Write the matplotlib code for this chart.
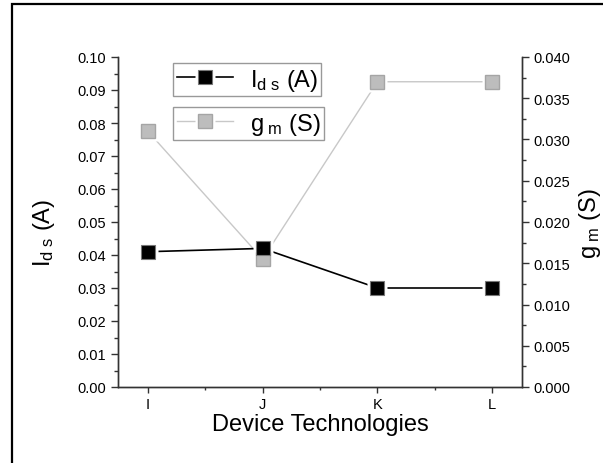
import numpy as np
import matplotlib
matplotlib.use("Agg")
import matplotlib.pyplot as plt
from matplotlib.lines import Line2D
from matplotlib.patches import Rectangle
from matplotlib.ticker import MultipleLocator

plt.rcParams['font.family'] = ['Liberation Sans', 'DejaVu Sans']
plt.rcParams['mathtext.fontset'] = 'custom'
plt.rcParams['mathtext.rm'] = 'Liberation Sans'
plt.rcParams['mathtext.it'] = 'Liberation Sans:italic'

# data
devices = ['I', 'J', 'K', 'L']
ids_values = [0.041, 0.042, 0.030, 0.030]
gm_values = [0.031, 0.0155, 0.037, 0.037]

ids_label = r'I$_{\mathrm{d\ s}}$ (A)'
gm_label = r'g$_{\mathrm{\ m}}$ (S)'

MS = 9.5      # marker size
HALO = 14.5   # white gap around markers (Origin style)

fig = plt.figure(figsize=(6.03, 4.64), dpi=100)
W, H = 603, 464

# outer frame of the exported figure
fig.patches.append(Rectangle((12 / W, -0.1), 1.2, 1 - 5 / H + 0.1,
                             transform=fig.transFigure, fill=False,
                             edgecolor='black', linewidth=1.6))

ax = fig.add_axes([118 / W, 1 - 388 / H, (522 - 118) / W, (388 - 58) / H])
ax2 = ax.twinx()

x = np.arange(len(devices))

gm_style = dict(markerfacecolor='#bdbdbd', markeredgecolor='#a5a5a5', markeredgewidth=1.0)
ids_style = dict(markerfacecolor='black', markeredgecolor='#777777', markeredgewidth=0.8)

# lines first, then white halos that cut the lines, then the markers
ax2.plot(x, gm_values, color='#c8c8c8', linewidth=1.0, zorder=1)
ax.plot(x, ids_values, color='black', linewidth=1.2, zorder=1)
ax2.plot(x, gm_values, linestyle='none', marker='s', markersize=HALO,
         markerfacecolor='white', markeredgecolor='none', zorder=2)
ax.plot(x, ids_values, linestyle='none', marker='s', markersize=HALO,
        markerfacecolor='white', markeredgecolor='none', zorder=2)
# gm markers drawn in ax (with ax2's scale) so they sit above the halos
ax.plot(x, gm_values, linestyle='none', marker='s', markersize=MS,
        transform=ax2.transData, zorder=3, **gm_style)
ax.plot(x, ids_values, linestyle='none', marker='s', markersize=MS,
        zorder=4, **ids_style)

# keep the Ids axis on top of the gm axis
ax.set_zorder(ax2.get_zorder() + 1)
ax.patch.set_visible(False)

ax.set_xlim(-0.26, 3.26)
ax.set_ylim(0, 0.10)
ax2.set_ylim(0, 0.040)
ax.set_xticks(x)
ax.set_xticklabels(devices)
ax.xaxis.set_minor_locator(MultipleLocator(0.5))

ax.yaxis.set_major_locator(MultipleLocator(0.01))
ax.yaxis.set_minor_locator(MultipleLocator(0.005))
ax2.yaxis.set_major_locator(MultipleLocator(0.005))
ax2.yaxis.set_minor_locator(MultipleLocator(0.0025))
ax.yaxis.set_major_formatter(plt.FuncFormatter(lambda v, p: f'{v:.2f}'))
ax2.yaxis.set_major_formatter(plt.FuncFormatter(lambda v, p: f'{v:.3f}'))

for a in (ax, ax2):
    a.spines['top'].set_visible(False)
    for s in a.spines.values():
        s.set_color('#333333')
        s.set_linewidth(1.0)
    a.tick_params(which='major', direction='out', length=5, width=1.0,
                  labelsize=10.5, color='#333333')
    a.tick_params(which='minor', direction='out', length=3, width=1.0,
                  color='#333333')
ax.tick_params(axis='x', which='major', length=4, pad=3)
ax.tick_params(axis='x', which='minor', length=2.5)

ax.set_xlabel('Device Technologies', fontsize=17, labelpad=2)
ax.set_ylabel(ids_label, fontsize=17)
ax.yaxis.set_label_coords(-0.15, 0.47)
ax2.set_ylabel(gm_label, fontsize=17, rotation=90)
ax2.yaxis.set_label_coords(1.135, 0.5)

# two separate legend boxes, as in the original
def legend_handle(color, lw, style):
    line = Line2D([], [], color=color, linewidth=lw)
    halo = Line2D([], [], linestyle='none', marker='s', markersize=HALO,
                  markerfacecolor='white', markeredgecolor='none')
    mark = Line2D([], [], linestyle='none', marker='s', markersize=MS, **style)
    return (line, halo, mark)

leg_kw = dict(loc='upper left', bbox_transform=fig.transFigure, fontsize=17,
              frameon=True, fancybox=False, borderaxespad=0, borderpad=0.15,
              handlelength=2.4, handletextpad=0.7)
leg1 = fig.legend([legend_handle('black', 1.2, ids_style)], [ids_label],
                  bbox_to_anchor=(173 / W, 1 - 64 / H), **leg_kw)
leg2 = fig.legend([legend_handle('#c8c8c8', 1.0, gm_style)], [gm_label],
                  bbox_to_anchor=(173 / W, 1 - 108 / H), **leg_kw)
for lg in (leg1, leg2):
    lg.get_frame().set_edgecolor('#808080')
    lg.get_frame().set_linewidth(1.0)

fig.savefig('out.png', dpi=100)
